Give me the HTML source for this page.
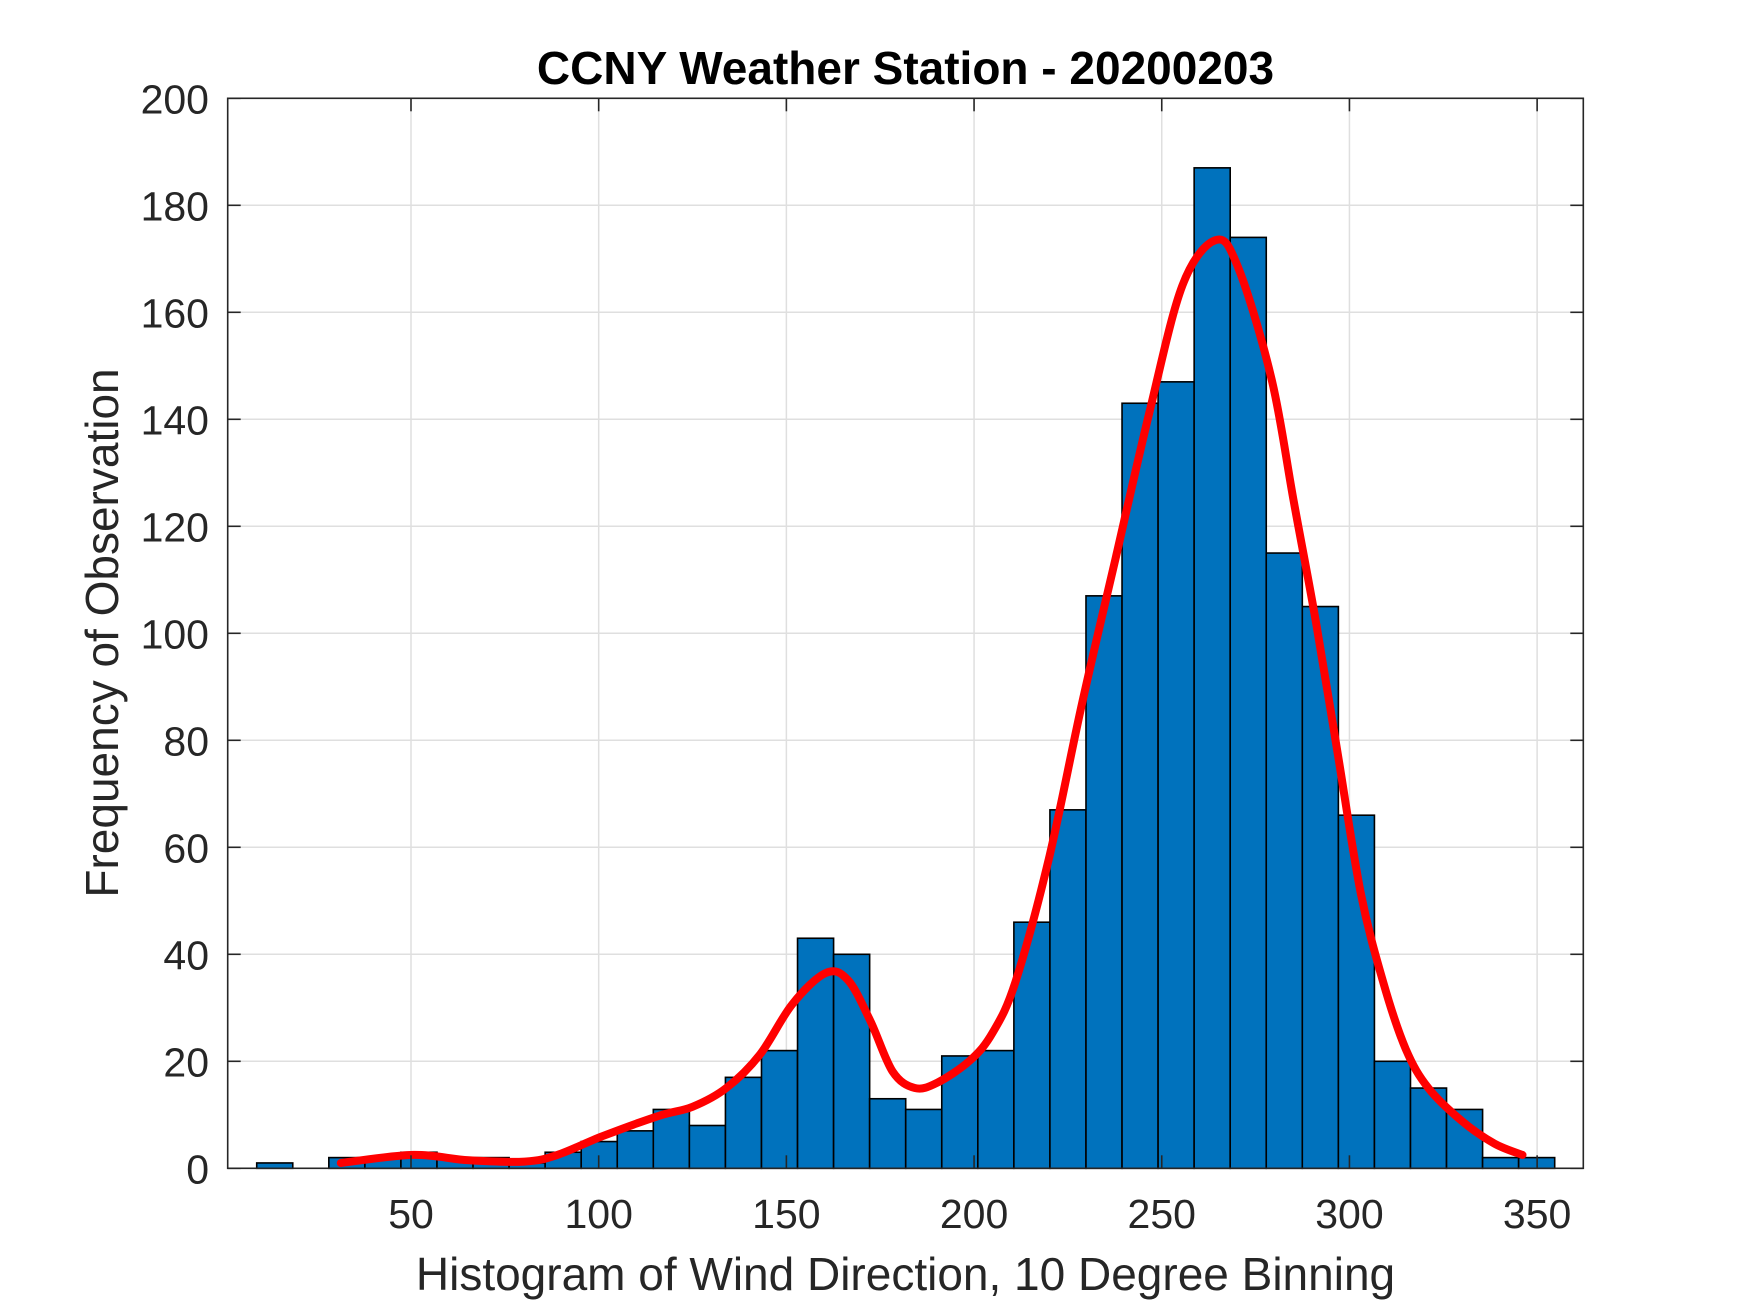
<!DOCTYPE html>
<html><head><meta charset="utf-8">
<style>
html,body{margin:0;padding:0;background:#fff;}
svg{display:block;font-family:"Liberation Sans",Arial,sans-serif;}
</style></head>
<body>
<svg id="chart" width="1750" height="1313" viewBox="0 0 1750 1313" xmlns="http://www.w3.org/2000/svg">
<rect x="0" y="0" width="1750" height="1313" fill="#fff"/>
<g id="grid"></g>
<g id="bars"></g>
<g id="curve"></g>
<g id="axes"></g>
<text x="905.5" y="84" text-anchor="middle" font-size="46" font-weight="bold" fill="#000">CCNY Weather Station - 20200203</text>
<text x="905.5" y="1290" text-anchor="middle" font-size="46" fill="#262626">Histogram of Wind Direction, 10 Degree Binning</text>
<text transform="translate(118,633) rotate(-90)" text-anchor="middle" font-size="46" fill="#262626">Frequency of Observation</text>
</svg>
<script>
const binStart = 8.9;
const binWidth = 9.605;
const counts = [1,0,2,2,3,2,2,1,3,5,7,11,8,17,22,43,40,13,11,21,22,46,67,107,143,147,187,174,115,105,66,20,15,11,2,2];
const curveX = [31.3,50.6,65.4,80.3,89,101,116,125,134,143,151.6,160.5,166.4,172.4,178.3,184.2,190.2,199,205,211,219.9,228.8,237.7,246.6,255.5,264.4,270.4,279.3,285.2,291.2,297.1,303,309,315,321,330,338.7,346.1];
const curveY = [1.0,2.5,1.5,1.25,2.5,6,9.8,11.5,15,21.3,30.7,36.5,35.2,27.5,18.1,15,16,20.2,25.4,34.8,57.8,87,114,141,165,173.5,168.3,147.4,124.5,101.6,76.5,51.5,34.8,22.3,15,8.8,4.6,2.5];
const xTicks = [50,100,150,200,250,300,350];
const yTicks = [0,20,40,60,80,100,120,140,160,180,200];

const L=227.7,R=1583.3,T=98.3,B=1168.3;
const xMin=1.17,xMax=362.3,yMin=0,yMax=200;
const sx=v=>L+(v-xMin)/(xMax-xMin)*(R-L);
const sy=v=>B-(v-yMin)/(yMax-yMin)*(B-T);
const NS="http://www.w3.org/2000/svg";
function mk(tag,attrs,parent){const e=document.createElementNS(NS,tag);for(const k in attrs)e.setAttribute(k,attrs[k]);parent.appendChild(e);return e;}
const grid=document.getElementById('grid'),bars=document.getElementById('bars'),curve=document.getElementById('curve'),axes=document.getElementById('axes');

xTicks.forEach(t=>{const l=mk('line',{x1:sx(t),x2:sx(t),y1:T,y2:B,stroke:'#dfdfdf','stroke-width':1.5},grid);

});
yTicks.forEach(t=>{const l=mk('line',{x1:L,x2:R,y1:sy(t),y2:sy(t),stroke:'#dfdfdf','stroke-width':1.5},grid);

});

counts.forEach((c,i)=>{if(c<=0)return;const x0=sx(binStart+i*binWidth),x1=sx(binStart+(i+1)*binWidth);
const r=mk('rect',{x:x0,y:sy(c),width:x1-x0,height:sy(0)-sy(c),fill:'#0072BD',stroke:'#000','stroke-width':1.6},bars);

});

const pts=curveX.map((x,i)=>[sx(x),sy(curveY[i])]);
let d='M'+pts[0][0].toFixed(1)+','+pts[0][1].toFixed(1);
for(let i=0;i<pts.length-1;i++){
  const p0=pts[Math.max(0,i-1)],p1=pts[i],p2=pts[i+1],p3=pts[Math.min(pts.length-1,i+2)];
  const c1=[p1[0]+(p2[0]-p0[0])/6,p1[1]+(p2[1]-p0[1])/6];
  const c2=[p2[0]-(p3[0]-p1[0])/6,p2[1]-(p3[1]-p1[1])/6];
  d+='C'+c1[0].toFixed(1)+','+c1[1].toFixed(1)+' '+c2[0].toFixed(1)+','+c2[1].toFixed(1)+' '+p2[0].toFixed(1)+','+p2[1].toFixed(1);
}
const p=mk('path',{d:d,fill:'none',stroke:'#ff0000','stroke-width':8,'stroke-linejoin':'round','stroke-linecap':'round'},curve);



const box=mk('rect',{x:L,y:T,width:R-L,height:B-T,fill:'none',stroke:'#262626','stroke-width':1.6},axes);


xTicks.forEach(t=>{const x=sx(t);
mk('line',{x1:x,x2:x,y1:B,y2:B-13,stroke:'#262626','stroke-width':1.6},axes);
mk('line',{x1:x,x2:x,y1:T,y2:T+13,stroke:'#262626','stroke-width':1.6},axes);
const tx=mk('text',{x:x,y:1228,'text-anchor':'middle','font-size':41,fill:'#262626'},axes);tx.textContent=t;

});
yTicks.forEach(t=>{const y=sy(t);
mk('line',{x1:L,x2:L+13,y1:y,y2:y,stroke:'#262626','stroke-width':1.6},axes);
mk('line',{x1:R,x2:R-13,y1:y,y2:y,stroke:'#262626','stroke-width':1.6},axes);
const tx=mk('text',{x:209,y:y+15,'text-anchor':'end','font-size':41,fill:'#262626'},axes);tx.textContent=t;

});
</script>
</body></html>
